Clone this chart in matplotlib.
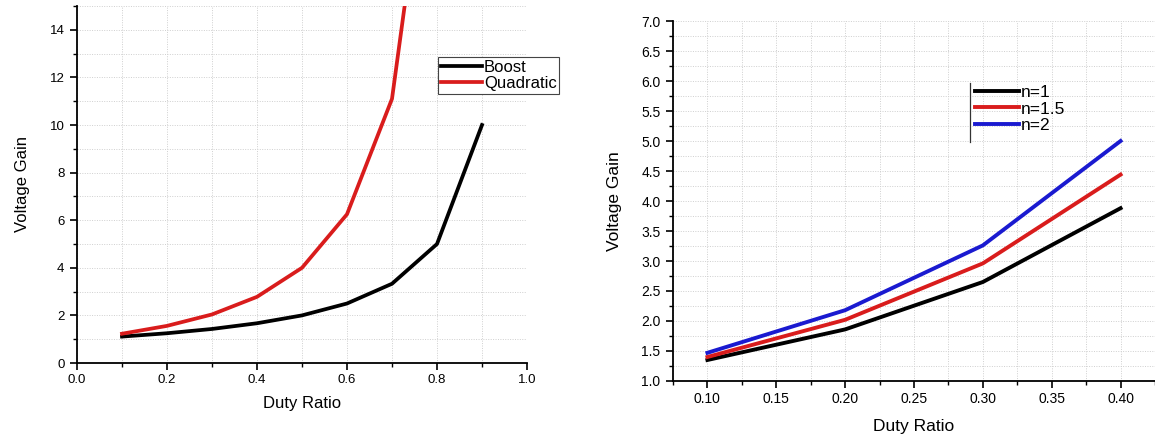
import matplotlib.pyplot as plt
from matplotlib.lines import Line2D
from matplotlib.ticker import MultipleLocator

plt.rcParams['font.family'] = ['Liberation Sans', 'DejaVu Sans']

# left panel: boost vs quadratic
duty_l = [0.1, 0.2, 0.3, 0.4, 0.5, 0.6, 0.7, 0.8, 0.9]
boost = [1.11, 1.25, 1.43, 1.67, 2.0, 2.5, 3.33, 5.0, 10.0]
duty_q = [0.1, 0.2, 0.3, 0.4, 0.5, 0.6, 0.7, 0.8]
quadratic = [1.23, 1.56, 2.04, 2.78, 4.0, 6.25, 11.1, 25.0]

# right panel: gain for different n
duty_r = [0.10, 0.20, 0.30, 0.40]
gain_n1 = [1.35, 1.86, 2.65, 3.88]
gain_n15 = [1.40, 2.02, 2.96, 4.44]
gain_n2 = [1.47, 2.18, 3.26, 5.00]

RED = '#d91c1c'
BLUE = '#1a1ad0'
W, H = 1155, 434

fig = plt.figure(figsize=(W / 100, H / 100), dpi=100)
ax1 = fig.add_axes([77 / W, 1 - 363 / H, 450 / W, 357 / H])
ax2 = fig.add_axes([673 / W, 1 - 381 / H, 482 / W, 360 / H])


def style(ax, fs):
    for s in ['top', 'right']:
        ax.spines[s].set_visible(False)
    for s in ['left', 'bottom']:
        ax.spines[s].set_linewidth(1.3)
    ax.tick_params(which='major', direction='out', length=5, width=1.2, labelsize=fs, pad=3)
    ax.tick_params(which='minor', direction='out', length=3, width=1.0)
    ax.tick_params(axis='y', which='major', pad=4)
    ax.grid(True, which='both', linestyle=(0, (1, 1.5)), color='#cfcfcf', linewidth=0.7)
    ax.set_axisbelow(True)


ax1.plot(duty_l, boost, color='black', lw=2.7, solid_joinstyle='round', label='Boost')
ax1.plot(duty_q, quadratic, color=RED, lw=2.7, solid_joinstyle='round', label='Quadratic')
ax1.set_xlim(0, 1.0)
ax1.set_ylim(0, 15)
ax1.xaxis.set_minor_locator(MultipleLocator(0.1))
ax1.yaxis.set_major_locator(MultipleLocator(2))
ax1.yaxis.set_minor_locator(MultipleLocator(1))
ax1.set_xticks([0, 0.2, 0.4, 0.6, 0.8, 1.0], ['0.0', '0.2', '0.4', '0.6', '0.8', '1.0'])
style(ax1, 9.5)
ax1.set_xlabel('Duty Ratio', fontsize=12, labelpad=7)
ax1.set_ylabel('Voltage Gain', fontsize=12, labelpad=14)
leg1 = ax1.legend(loc='upper left', bbox_to_anchor=(438 / W, 1 - 57 / H),
                  bbox_transform=fig.transFigure, borderaxespad=0, fontsize=12,
                  handlelength=2.5, handletextpad=0.1, labelspacing=0.1,
                  borderpad=0.15, fancybox=False, framealpha=1)
leg1.get_frame().set_edgecolor('#444444')
leg1.get_frame().set_linewidth(0.8)

ax2.plot(duty_r, gain_n1, color='black', lw=2.8, solid_joinstyle='round', label='n=1')
ax2.plot(duty_r, gain_n15, color=RED, lw=2.8, solid_joinstyle='round', label='n=1.5')
ax2.plot(duty_r, gain_n2, color=BLUE, lw=2.8, solid_joinstyle='round', label='n=2')
ax2.set_xlim(0.075, 0.425)
ax2.set_ylim(1.0, 7.0)
ax2.xaxis.set_major_locator(MultipleLocator(0.05))
ax2.xaxis.set_minor_locator(MultipleLocator(0.025))
ax2.yaxis.set_major_locator(MultipleLocator(0.5))
ax2.yaxis.set_minor_locator(MultipleLocator(0.25))
ax2.xaxis.set_major_formatter(lambda v, p: f'{v:.2f}')
ax2.yaxis.set_major_formatter(lambda v, p: f'{v:.1f}')
style(ax2, 10)
ax2.set_xlabel('Duty Ratio', fontsize=12.5, labelpad=9)
ax2.set_ylabel('Voltage Gain', fontsize=12.5, labelpad=14)
leg2 = ax2.legend(loc='upper left', bbox_to_anchor=(972 / W, 1 - 81 / H),
                  bbox_transform=fig.transFigure, borderaxespad=0, fontsize=12.5,
                  handlelength=2.5, handletextpad=0.1, labelspacing=0.1,
                  borderpad=0.2, frameon=False)
fig.add_artist(Line2D([970 / W, 970 / W], [1 - 83 / H, 1 - 142 / H],
                      transform=fig.transFigure, color='#333333', lw=0.9))

fig.savefig('out.png', dpi=100)
